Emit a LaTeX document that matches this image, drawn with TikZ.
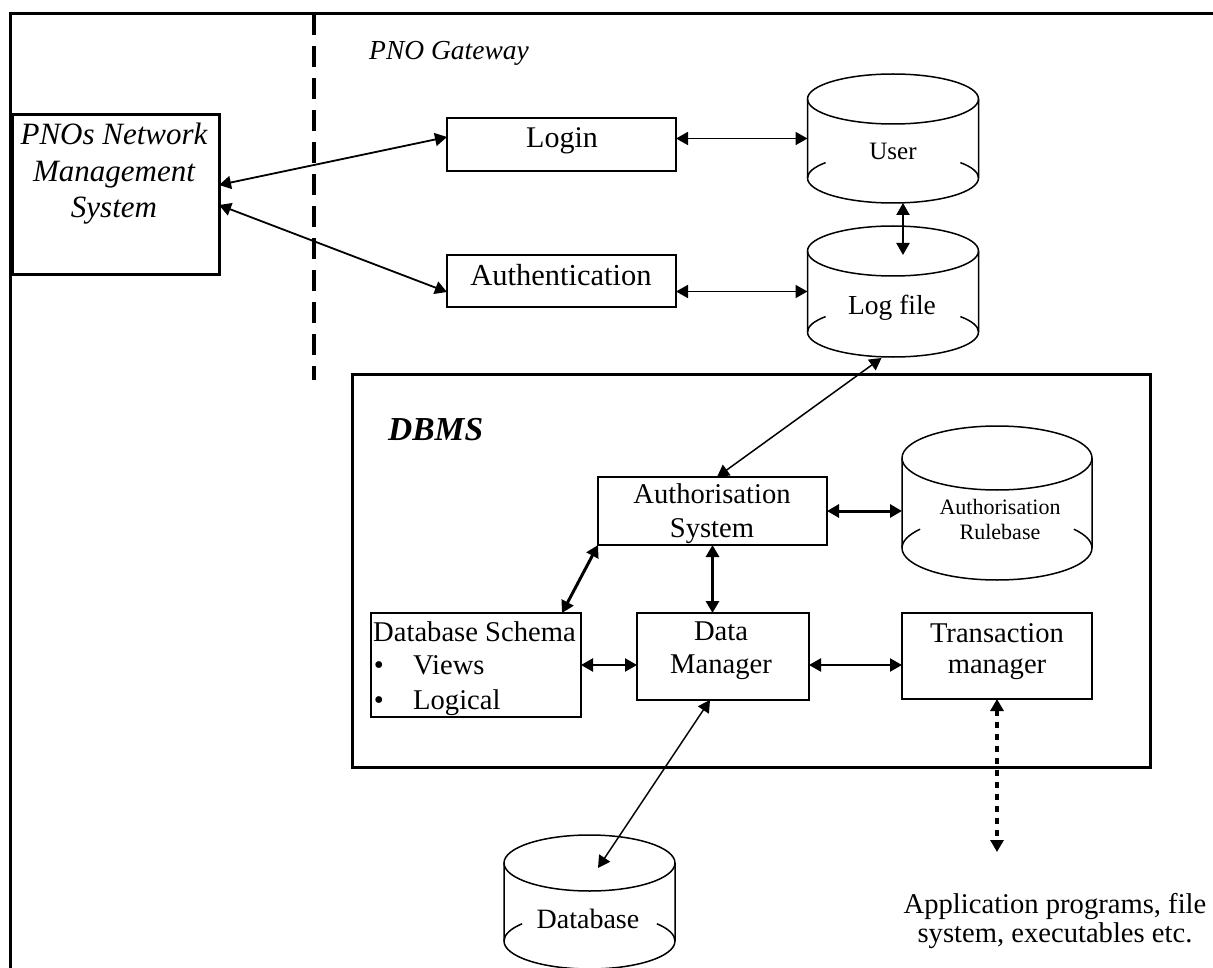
\documentclass[tikz,border=0pt]{standalone}
\usepackage{fontspec}
\setmainfont{Liberation Serif}
\usetikzlibrary{arrows.meta,calc}
\newcommand\myfs[1]{\fontsize{#1}{#1}\selectfont}
% #1 node name, #2 x radius, #3 y radius, #4 arc angle of the partial upper arcs
\newcommand\drawcan[4]{%
  \draw[canline] ($(#1.north)+(0,#3)$) ellipse [x radius=#2, y radius=#3];
  \draw[canline] ($(#1.north)+(-#2,#3)$) -- ($(#1.south)+(-#2,-#3)$)
     arc[start angle=180, end angle=0, x radius=#2, y radius=#3]
     -- ($(#1.north)+(#2,#3)$);
  \draw[canline] ($(#1.south)+(-#2,-#3)$) arc[start angle=180, end angle=180+#4, x radius=#2, y radius=#3];
  \draw[canline] ($(#1.south)+(#2,-#3)$) arc[start angle=360, end angle=360-#4, x radius=#2, y radius=#3];
}
\begin{document}
\begin{tikzpicture}[x=1pt,y=-1pt,
  thinbox/.style={draw,line width=1.5pt,inner sep=0pt,outer sep=0pt},
  thickbox/.style={draw,line width=3pt,inner sep=0pt,outer sep=0pt},
  canbox/.style={inner sep=0pt,outer sep=0pt},
  canline/.style={line width=1.5pt},
  txt/.style={inner sep=0pt,anchor=base,font=\myfs{28.6}},
  tipA/.tip={Triangle[length=12pt,width=13pt]},
  conn/.style={line width=1.8pt,tipA-tipA},
  connthin/.style={line width=1.5pt,tipA-tipA},
  connmid/.style={line width=2.2pt,tipA-tipA},
  connthick/.style={line width=3pt,tipA-tipA},
  dotarrow/.style={line width=3.5pt,dash pattern=on 6pt off 6pt,tipA-tipA},
]
\useasboundingbox (0,0) rectangle (1213,968);

% outer frame and gateway boundary
\draw[line width=3pt] (1213,14) -- (10,14) -- (10,968);
\draw[line width=3.5pt, dash pattern=on 21pt off 11pt] (314,14) -- (314,380);
\node[txt, anchor=base west, font=\itshape\myfs{27.5}] (gw) at (369,60) {PNO Gateway};

% boxes
\node[thickbox, minimum width=207pt, minimum height=160pt] (pnos) at (115.5,195) {};
\node[thinbox, minimum width=229pt, minimum height=53pt] (login) at (561.5,144.5) {};
\node[thinbox, minimum width=229pt, minimum height=52pt] (auth) at (561.5,281) {};
\node[thickbox, minimum width=798pt, minimum height=393pt] (dbms) at (751,570.5) {};
\node[thinbox, minimum width=229pt, minimum height=68pt] (authsys) at (712.5,511) {};
\node[draw, line width=2.5pt, inner sep=0pt, outer sep=0pt, minimum width=210pt, minimum height=104pt] (schema) at (476,665) {};
\node[draw, line width=2.5pt, inner sep=0pt, outer sep=0pt, minimum width=172pt, minimum height=87pt] (dm) at (723,656.5) {};
\node[thinbox, minimum width=190pt, minimum height=86pt] (trans) at (997,656) {};

% cylinders
\node[canbox, minimum width=171pt, minimum height=129pt] (user) at (893,138.5) {};
\drawcan{user}{85.5}{25}{38}
\node[canbox, minimum width=171pt, minimum height=131pt] (log) at (893,291.5) {};
\drawcan{log}{85.5}{25}{38}
\node[canbox, minimum width=190pt, minimum height=154pt] (rule) at (997,503) {};
\drawcan{rule}{95}{32}{36}
\node[canbox, minimum width=171pt, minimum height=134pt] (database) at (589.5,902) {};
\drawcan{database}{85.5}{28}{38}

% texts
\node[txt, font=\itshape\myfs{31}] (pnos1) at (114,145) {PNOs Network};
\node[txt, font=\itshape\myfs{31}] (pnos2) at (114,182) {Management};
\node[txt, font=\itshape\myfs{31}] (pnos3) at (114,218) {System};
\node[txt, font=\myfs{30}] (logint) at (562,148) {Login};
\node[txt, font=\myfs{30.5}] (autht) at (561,286) {Authentication};
\node[txt, font=\myfs{25}] (usert) at (893,160) {User};
\node[txt, font=\myfs{27.5}] (logt) at (892,315) {Log file};
\node[txt, anchor=base west, font=\bfseries\itshape\myfs{33.5}] (dbmst) at (388,440) {DBMS};
\node[txt] (authsys1) at (712,503) {Authorisation};
\node[txt] (authsys2) at (712,537) {System};
\node[txt, font=\myfs{22}] (rule1) at (1000,514) {Authorisation};
\node[txt, font=\myfs{22}] (rule2) at (1000,539) {Rulebase};
\node[txt, anchor=base west] (schema1) at (373,641) {Database Schema};
\node[txt] (bul1) at (379,674) {•};
\node[txt, anchor=base west] (schema2) at (413,674) {Views};
\node[txt] (bul2) at (379,709) {•};
\node[txt, anchor=base west] (schema3) at (413,709) {Logical};
\node[txt] (dm1) at (721,640) {Data};
\node[txt] (dm2) at (721,673) {Manager};
\node[txt] (trans1) at (997,642) {Transaction};
\node[txt] (trans2) at (997,673) {manager};
\node[txt] (app1) at (1055,913) {Application programs, file};
\node[txt] (app2) at (1055,942) {system, executables etc.};
\node[txt, font=\myfs{28}] (databaset) at (588,928) {Database};

% connectors
\draw[conn] ($(pnos.east)+(0,-10)$) -- ($(login.west)+(0,-7.5)$);
\draw[conn] ($(pnos.east)+(0,10)$) -- ($(auth.west)+(0,11)$);
\draw[conn] (login.east |- user.west) -- (user.west);
\draw[conn] (auth.east |- log.west) -- (log.west);
\draw[connmid] ($(user.south)+(10,0)$) -- ($(log.north)+(10,29)$);
\draw[connthin] ($(log.south)+(-11.5,1)$) -- ($(authsys.north)+(4.5,0)$);
\draw[connthick] (authsys.east) -- (authsys.east -| rule.west);
\draw[connthick] (authsys.south west) -- ($(schema.north east)+(-19,0)$);
\draw[connthick] (authsys.south) -- (authsys.south |- dm.north);
\draw[connmid] (schema.east) -- (schema.east -| dm.west);
\draw[connmid] (dm.east |- schema.east) -- (trans.west |- schema.east);
\draw[connthin] ($(dm.south)+(-13,0)$) -- ($(database.north)+(8.5,33)$);
\coordinate (append) at (997,852);
\draw[dotarrow] (trans.south) -- (append);
\end{tikzpicture}
\end{document}
